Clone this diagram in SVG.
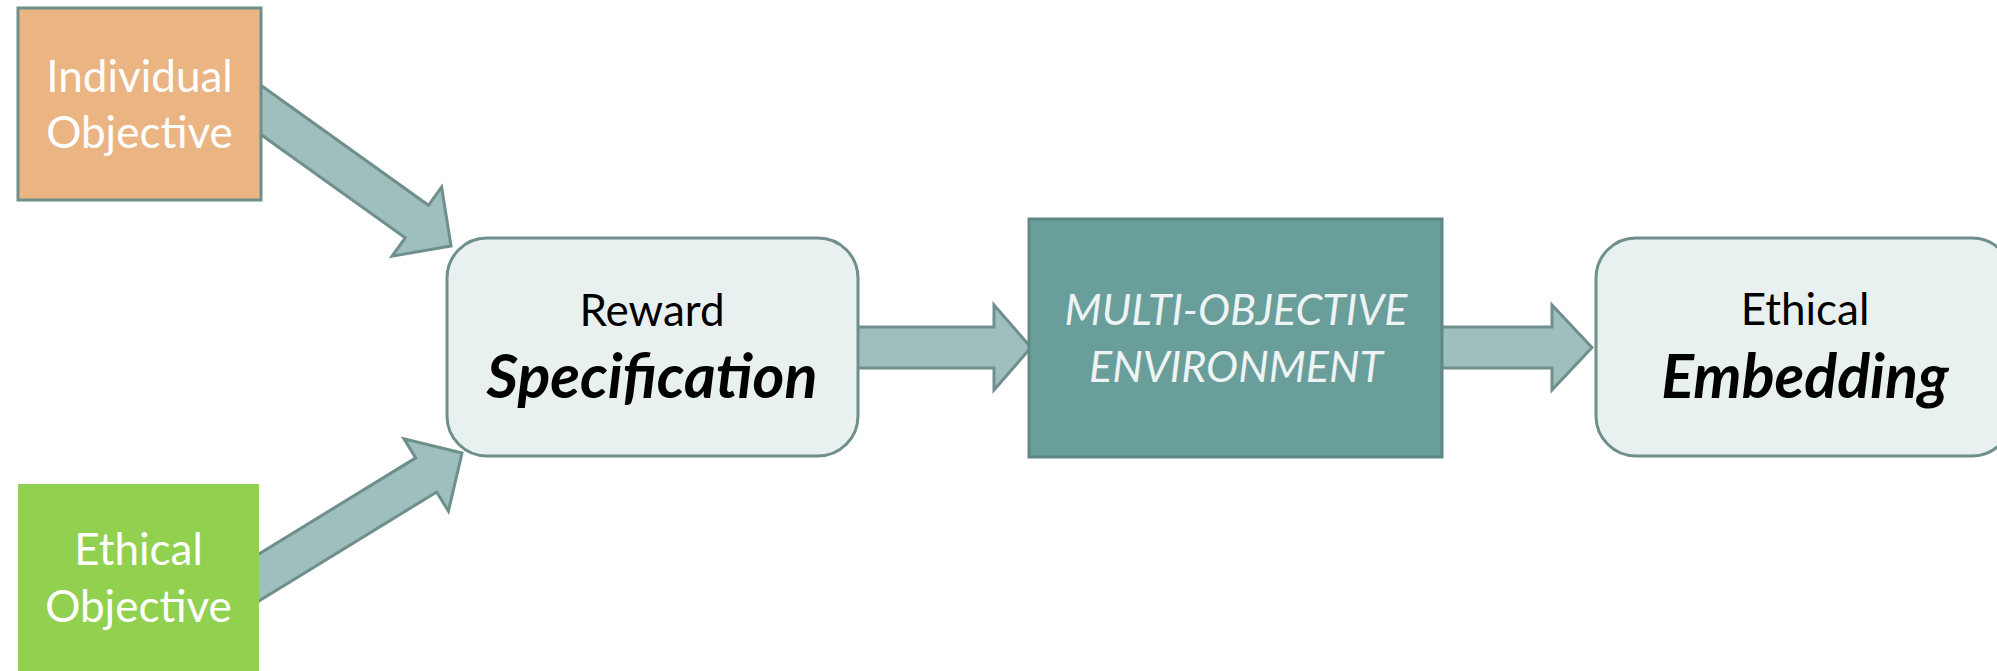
<svg xmlns="http://www.w3.org/2000/svg" width="1997" height="671" viewBox="0 0 1997 671">
  <style>
    .arrow { fill: #9ebfbd; stroke: #6e8f8c; stroke-width: 3; stroke-linejoin: miter; }
    .stage { fill: #e9f1f0; stroke: #6e8f8c; stroke-width: 3; }
    .src-text { font-family: Lato, "Open Sans", sans-serif; font-size: 44px; fill: #ffffff; text-anchor: middle; }
    .label { font-family: Lato, "Open Sans", sans-serif; font-size: 44px; fill: #000000; text-anchor: middle; }
    .label-strong { font-family: Lato, "Open Sans", sans-serif; font-size: 61px; font-weight: bold; font-style: italic; fill: #000000; text-anchor: middle; }
    .env-text { font-family: Lato, "Open Sans", sans-serif; font-size: 43px; font-style: italic; fill: #eef4f3; text-anchor: middle; }
  </style>

  <rect width="1997" height="671" fill="#ffffff"/>

  <!-- block arrows between the stages -->
  <g id="connectors">
    <path class="arrow" transform="translate(451,246) rotate(35.6)" d="M0,0 L-42,-42.5 L-42,-20 L-273,-20 L-273,20 L-42,20 L-42,42.5 Z"/>
    <path class="arrow" transform="translate(462,453) rotate(-31.5)" d="M0,0 L-42,-42.5 L-42,-20 L-280,-20 L-280,20 L-42,20 L-42,42.5 Z"/>
    <path class="arrow" d="M1031,347.5 L994,305 L994,327 L850,327 L850,368 L994,368 L994,390 Z"/>
    <path class="arrow" d="M1592,347.5 L1552,305 L1552,327 L1436,327 L1436,368 L1552,368 L1552,390 Z"/>
  </g>

  <g id="individual-objective">
    <rect x="18" y="8" width="243" height="192" fill="#eab583" stroke="#6e8f8c" stroke-width="3"/>
    <text class="src-text" x="139.5" y="92">Individual</text>
    <text class="src-text" x="139.5" y="148">Objective</text>
  </g>

  <g id="ethical-objective">
    <rect x="18" y="484" width="241" height="200" fill="#92d050"/>
    <text class="src-text" x="138.5" y="565">Ethical</text>
    <text class="src-text" x="138.5" y="622">Objective</text>
  </g>

  <g id="reward-specification">
    <rect class="stage" x="447" y="238" width="411" height="218" rx="40" ry="40"/>
    <text class="label" x="652" y="326">Reward</text>
    <text class="label-strong" x="652" y="398">Specification</text>
  </g>

  <g id="multi-objective-environment">
    <rect x="1029" y="219" width="413" height="238" fill="#699e9b" stroke="#5e8986" stroke-width="3"/>
    <text class="env-text" x="1236" y="325">MULTI-OBJECTIVE</text>
    <text class="env-text" x="1236" y="382">ENVIRONMENT</text>
  </g>

  <g id="ethical-embedding">
    <rect class="stage" x="1596" y="238" width="416" height="218" rx="40" ry="40"/>
    <text class="label" x="1805" y="325">Ethical</text>
    <text class="label-strong" x="1805" y="398">Embedding</text>
  </g>
</svg>
